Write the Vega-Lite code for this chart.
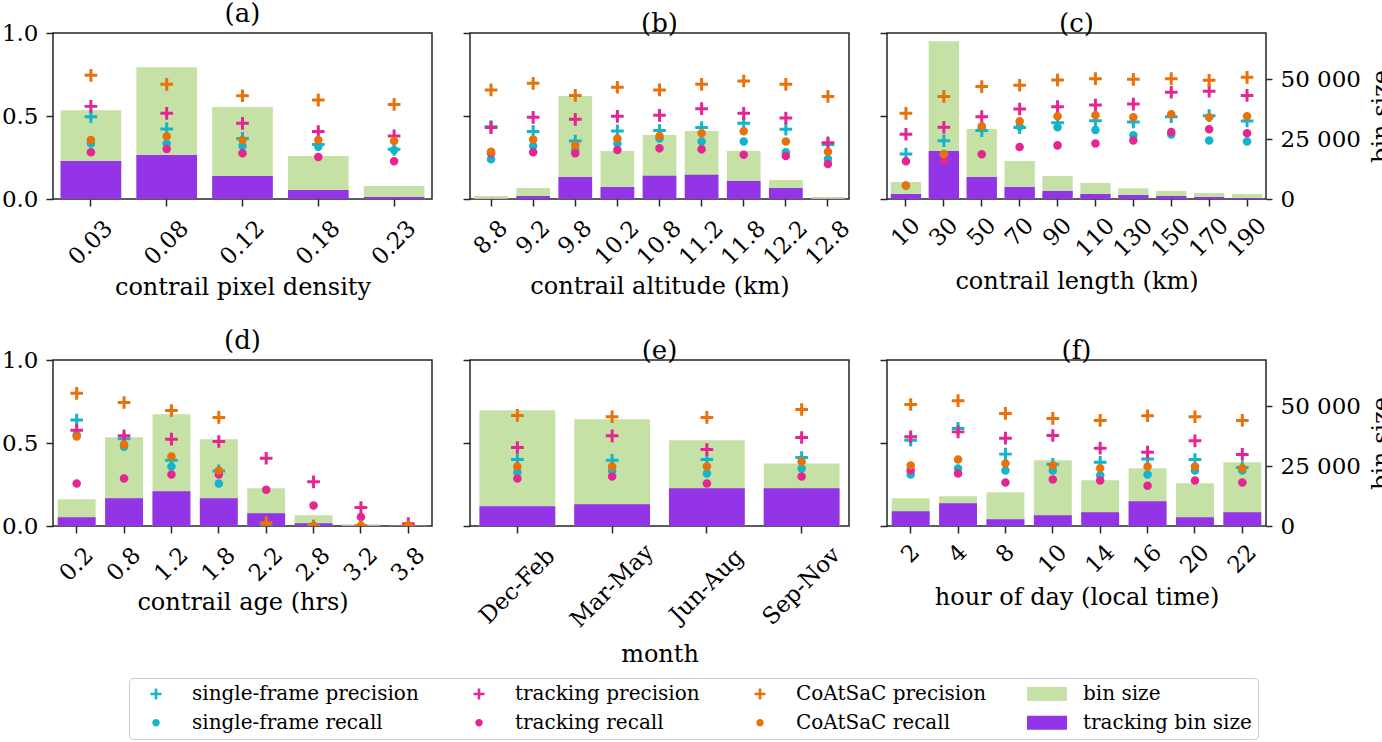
{
  "$schema": "https://vega.github.io/schema/vega-lite/v6.json",
  "description": "Precision, recall and bin size of contrail detection by contrail property",
  "padding": {"left": 0, "top": 0, "right": 0, "bottom": 0},
  "data": {
    "values": [
      {"p": "a", "x": "0.03", "sp": 0.496, "sr": 0.335, "tp": 0.558, "tr": 0.281, "cp": 0.745, "cr": 0.355, "bin": 37000, "tbin": 15800},
      {"p": "a", "x": "0.08", "sp": 0.422, "sr": 0.335, "tp": 0.516, "tr": 0.301, "cp": 0.691, "cr": 0.378, "bin": 54950, "tbin": 18300},
      {"p": "a", "x": "0.12", "sp": 0.365, "sr": 0.319, "tp": 0.456, "tr": 0.275, "cp": 0.622, "cr": 0.355, "bin": 38300, "tbin": 9600},
      {"p": "a", "x": "0.18", "sp": 0.329, "sr": 0.315, "tp": 0.406, "tr": 0.253, "cp": 0.596, "cr": 0.355, "bin": 17900, "tbin": 3750},
      {"p": "a", "x": "0.23", "sp": 0.299, "sr": 0.295, "tp": 0.380, "tr": 0.227, "cp": 0.570, "cr": 0.349, "bin": 5400, "tbin": 830},

      {"p": "b", "x": "8.8", "sp": 0.436, "sr": 0.239, "tp": 0.430, "tr": 0.275, "cp": 0.657, "cr": 0.285, "bin": 1250, "tbin": 150},
      {"p": "b", "x": "9.2", "sp": 0.406, "sr": 0.319, "tp": 0.492, "tr": 0.281, "cp": 0.697, "cr": 0.359, "bin": 4580, "tbin": 1250},
      {"p": "b", "x": "9.8", "sp": 0.349, "sr": 0.295, "tp": 0.480, "tr": 0.275, "cp": 0.624, "cr": 0.323, "bin": 42900, "tbin": 9160},
      {"p": "b", "x": "10.2", "sp": 0.410, "sr": 0.335, "tp": 0.498, "tr": 0.295, "cp": 0.673, "cr": 0.365, "bin": 19980, "tbin": 5000},
      {"p": "b", "x": "10.8", "sp": 0.412, "sr": 0.365, "tp": 0.504, "tr": 0.305, "cp": 0.657, "cr": 0.380, "bin": 26650, "tbin": 9710},
      {"p": "b", "x": "11.2", "sp": 0.430, "sr": 0.347, "tp": 0.544, "tr": 0.299, "cp": 0.691, "cr": 0.396, "bin": 28300, "tbin": 10130},
      {"p": "b", "x": "11.8", "sp": 0.456, "sr": 0.347, "tp": 0.516, "tr": 0.267, "cp": 0.711, "cr": 0.408, "bin": 19980, "tbin": 7490},
      {"p": "b", "x": "12.2", "sp": 0.420, "sr": 0.281, "tp": 0.488, "tr": 0.259, "cp": 0.691, "cr": 0.347, "bin": 7910, "tbin": 4580},
      {"p": "b", "x": "12.8", "sp": 0.329, "sr": 0.241, "tp": 0.339, "tr": 0.211, "cp": 0.618, "cr": 0.285, "bin": 830, "tbin": 80},

      {"p": "c", "x": "10", "sp": 0.271, "sr": 0.080, "tp": 0.390, "tr": 0.227, "cp": 0.516, "cr": 0.082, "bin": 7080, "tbin": 2080},
      {"p": "c", "x": "30", "sp": 0.351, "sr": 0.271, "tp": 0.432, "tr": 0.233, "cp": 0.618, "cr": 0.269, "bin": 65770, "tbin": 19980},
      {"p": "c", "x": "50", "sp": 0.412, "sr": 0.426, "tp": 0.496, "tr": 0.269, "cp": 0.677, "cr": 0.438, "bin": 29140, "tbin": 9160},
      {"p": "c", "x": "70", "sp": 0.430, "sr": 0.436, "tp": 0.542, "tr": 0.313, "cp": 0.685, "cr": 0.468, "bin": 15820, "tbin": 5000},
      {"p": "c", "x": "90", "sp": 0.460, "sr": 0.432, "tp": 0.556, "tr": 0.323, "cp": 0.717, "cr": 0.498, "bin": 9570, "tbin": 3330},
      {"p": "c", "x": "110", "sp": 0.472, "sr": 0.416, "tp": 0.566, "tr": 0.335, "cp": 0.725, "cr": 0.504, "bin": 6660, "tbin": 2080},
      {"p": "c", "x": "130", "sp": 0.464, "sr": 0.384, "tp": 0.572, "tr": 0.353, "cp": 0.721, "cr": 0.492, "bin": 4440, "tbin": 1660},
      {"p": "c", "x": "150", "sp": 0.496, "sr": 0.388, "tp": 0.643, "tr": 0.404, "cp": 0.725, "cr": 0.510, "bin": 3330, "tbin": 1250},
      {"p": "c", "x": "170", "sp": 0.502, "sr": 0.353, "tp": 0.649, "tr": 0.420, "cp": 0.715, "cr": 0.492, "bin": 2500, "tbin": 830},
      {"p": "c", "x": "190", "sp": 0.470, "sr": 0.347, "tp": 0.624, "tr": 0.396, "cp": 0.733, "cr": 0.498, "bin": 2080, "tbin": 420},

      {"p": "d", "x": "0.2", "sp": 0.638, "sr": 0.550, "tp": 0.577, "tr": 0.256, "cp": 0.799, "cr": 0.539, "bin": 11120, "tbin": 3620},
      {"p": "d", "x": "0.8", "sp": 0.525, "sr": 0.477, "tp": 0.543, "tr": 0.286, "cp": 0.744, "cr": 0.491, "bin": 36980, "tbin": 11540},
      {"p": "d", "x": "1.2", "sp": 0.396, "sr": 0.358, "tp": 0.523, "tr": 0.310, "cp": 0.696, "cr": 0.419, "bin": 46580, "tbin": 14460},
      {"p": "d", "x": "1.8", "sp": 0.332, "sr": 0.256, "tp": 0.509, "tr": 0.310, "cp": 0.654, "cr": 0.334, "bin": 36150, "tbin": 11540},
      {"p": "d", "x": "2.2", "sp": 0, "sr": 0, "tp": 0.408, "tr": 0.219, "cp": 0.020, "cr": 0, "bin": 15710, "tbin": 5280},
      {"p": "d", "x": "2.8", "sp": 0, "sr": 0, "tp": 0.266, "tr": 0.123, "cp": 0, "cr": 0, "bin": 4450, "tbin": 1110},
      {"p": "d", "x": "3.2", "sp": 0, "sr": 0, "tp": 0.111, "tr": 0.054, "cp": 0, "cr": 0, "bin": 700, "tbin": 100},
      {"p": "d", "x": "3.8", "sp": 0, "sr": 0, "tp": 0.014, "tr": 0, "cp": 0, "cr": 0, "bin": 60, "tbin": 0},

      {"p": "e", "x": "Dec-Feb", "sp": 0.400, "sr": 0.324, "tp": 0.473, "tr": 0.286, "cp": 0.666, "cr": 0.358, "bin": 48240, "tbin": 8200},
      {"p": "e", "x": "Mar-May", "sp": 0.396, "sr": 0.332, "tp": 0.543, "tr": 0.298, "cp": 0.658, "cr": 0.358, "bin": 44490, "tbin": 9040},
      {"p": "e", "x": "Jun-Aug", "sp": 0.400, "sr": 0.316, "tp": 0.461, "tr": 0.256, "cp": 0.654, "cr": 0.358, "bin": 35730, "tbin": 15710},
      {"p": "e", "x": "Sep-Nov", "sp": 0.412, "sr": 0.346, "tp": 0.533, "tr": 0.298, "cp": 0.702, "cr": 0.388, "bin": 26000, "tbin": 15710},

      {"p": "f", "x": "2", "sp": 0.517, "sr": 0.310, "tp": 0.537, "tr": 0.336, "cp": 0.732, "cr": 0.364, "bin": 11540, "tbin": 6120},
      {"p": "f", "x": "4", "sp": 0.588, "sr": 0.346, "tp": 0.567, "tr": 0.316, "cp": 0.755, "cr": 0.400, "bin": 12370, "tbin": 9450},
      {"p": "f", "x": "8", "sp": 0.433, "sr": 0.334, "tp": 0.529, "tr": 0.262, "cp": 0.678, "cr": 0.376, "bin": 14040, "tbin": 2780},
      {"p": "f", "x": "10", "sp": 0.372, "sr": 0.334, "tp": 0.545, "tr": 0.280, "cp": 0.648, "cr": 0.364, "bin": 27390, "tbin": 4450},
      {"p": "f", "x": "14", "sp": 0.384, "sr": 0.306, "tp": 0.469, "tr": 0.274, "cp": 0.636, "cr": 0.348, "bin": 19060, "tbin": 5700},
      {"p": "f", "x": "16", "sp": 0.404, "sr": 0.310, "tp": 0.445, "tr": 0.243, "cp": 0.664, "cr": 0.358, "bin": 24050, "tbin": 10290},
      {"p": "f", "x": "20", "sp": 0.400, "sr": 0.334, "tp": 0.513, "tr": 0.274, "cp": 0.658, "cr": 0.358, "bin": 17810, "tbin": 3620},
      {"p": "f", "x": "22", "sp": 0.352, "sr": 0.334, "tp": 0.431, "tr": 0.262, "cp": 0.636, "cr": 0.348, "bin": 26560, "tbin": 5700}
    ]
  },
  "columns": 3,
  "spacing": {"row": 161, "column": 38},
  "bounds": "flush",
  "concat": [
    {
      "title": "(a)",
      "width": 379,
      "height": 166,
      "transform": [{"filter": "datum.p == 'a'"}],
      "encoding": {
        "x": {"field": "x", "type": "ordinal", "sort": null, "scale": {"type": "band"},
              "axis": {"title": "contrail pixel density", "titleY": 88, "labelAngle": -45, "labelAlign": "center", "labelBaseline": "middle",
                       "labelPadding": {"expr": "15 + 5.4 * length(datum.label)"}}},
        "color": {"field": "s", "type": "nominal",
                  "scale": {"domain": ["sp", "sr", "tp", "tr", "cp", "cr", "bin", "tbin"],
                            "range": ["#12b5cb", "#12b5cb", "#e52592", "#e52592", "#e8710a", "#e8710a", "#c5e1a5", "#9334e6"]},
                  "legend": {"title": null, "orient": "none", "legendX": 76, "legendY": 645, "columns": 4,
                             "symbolSize": 400, "symbolStrokeWidth": 0, "symbolOffset": 11, "labelOffset": 26,
                             "columnPadding": 39, "rowPadding": 8.7, "padding": 6,
                             "strokeColor": "#cccccc", "cornerRadius": 4, "fillColor": "#ffffff",
                             "labelFontSize": 20, "labelLimit": 400,
                             "labelExpr": "{'sp': 'single-frame precision', 'tp': 'tracking precision', 'cp': 'CoAtSaC precision', 'bin': 'bin size', 'sr': 'single-frame recall', 'tr': 'tracking recall', 'cr': 'CoAtSaC recall', 'tbin': 'tracking bin size'}[datum.label]"}}
      },
      "layer": [
        {
          "transform": [{"fold": ["bin", "tbin"], "as": ["s", "v"]}],
          "mark": {"type": "bar"},
          "encoding": {
            "y": {"field": "v", "type": "quantitative", "stack": null, "scale": {"domain": [0, 69170], "nice": false}, "axis": null}
          }
        },
        {
          "transform": [{"fold": ["sp", "sr", "tp", "tr", "cp", "cr"], "as": ["s", "v"]}],
          "mark": {"type": "point", "filled": true, "opacity": 1, "size": 530, "strokeWidth": 0, "clip": true},
          "encoding": {
            "y": {"field": "v", "type": "quantitative", "scale": {"domain": [0, 1], "nice": false},
                  "axis": {"orient": "left", "values": [0, 0.5, 1], "format": ".1f", "title": null, "labelPadding": 8}},
            "shape": {"field": "s", "type": "nominal",
                      "scale": {"domain": ["sp", "sr", "tp", "tr", "cp", "cr", "bin", "tbin"],
                                "range": ["M-0.55,-0.13L-0.13,-0.13L-0.13,-0.55L0.13,-0.55L0.13,-0.13L0.55,-0.13L0.55,0.13L0.13,0.13L0.13,0.55L-0.13,0.55L-0.13,0.13L-0.55,0.13Z",
                                          "M0.37,0A0.37,0.37,0,1,1,-0.37,0A0.37,0.37,0,1,1,0.37,0Z",
                                          "M-0.55,-0.13L-0.13,-0.13L-0.13,-0.55L0.13,-0.55L0.13,-0.13L0.55,-0.13L0.55,0.13L0.13,0.13L0.13,0.55L-0.13,0.55L-0.13,0.13L-0.55,0.13Z",
                                          "M0.37,0A0.37,0.37,0,1,1,-0.37,0A0.37,0.37,0,1,1,0.37,0Z",
                                          "M-0.55,-0.13L-0.13,-0.13L-0.13,-0.55L0.13,-0.55L0.13,-0.13L0.55,-0.13L0.55,0.13L0.13,0.13L0.13,0.55L-0.13,0.55L-0.13,0.13L-0.55,0.13Z",
                                          "M0.37,0A0.37,0.37,0,1,1,-0.37,0A0.37,0.37,0,1,1,0.37,0Z",
                                          "M-2,-0.7L2,-0.7L2,0.7L-2,0.7Z",
                                          "M-2,-0.7L2,-0.7L2,0.7L-2,0.7Z"]},
                      "legend": {"title": null, "orient": "none", "legendX": 76, "legendY": 645, "columns": 4,
                                 "symbolSize": 400, "symbolStrokeWidth": 0, "symbolOffset": 11, "labelOffset": 26,
                                 "columnPadding": 39, "rowPadding": 8.7, "padding": 6,
                                 "strokeColor": "#cccccc", "cornerRadius": 4, "fillColor": "#ffffff",
                                 "labelFontSize": 20, "labelLimit": 400,
                                 "labelExpr": "{'sp': 'single-frame precision', 'tp': 'tracking precision', 'cp': 'CoAtSaC precision', 'bin': 'bin size', 'sr': 'single-frame recall', 'tr': 'tracking recall', 'cr': 'CoAtSaC recall', 'tbin': 'tracking bin size'}[datum.label]"}}
          }
        }
      ],
      "resolve": {"scale": {"y": "independent"}}
    },
    {
      "title": "(b)",
      "width": 379,
      "height": 166,
      "transform": [{"filter": "datum.p == 'b'"}],
      "encoding": {
        "x": {"field": "x", "type": "ordinal", "sort": null, "scale": {"type": "band"},
              "axis": {"title": "contrail altitude (km)", "titleY": 87, "labelAngle": -45, "labelAlign": "center", "labelBaseline": "middle",
                       "labelPadding": {"expr": "15 + 5.4 * length(datum.label)"}}},
        "color": {"field": "s", "type": "nominal",
                  "scale": {"domain": ["sp", "sr", "tp", "tr", "cp", "cr", "bin", "tbin"],
                            "range": ["#12b5cb", "#12b5cb", "#e52592", "#e52592", "#e8710a", "#e8710a", "#c5e1a5", "#9334e6"]},
                  "legend": null}
      },
      "layer": [
        {
          "transform": [{"fold": ["bin", "tbin"], "as": ["s", "v"]}],
          "mark": {"type": "bar"},
          "encoding": {
            "y": {"field": "v", "type": "quantitative", "stack": null, "scale": {"domain": [0, 69170], "nice": false}, "axis": null}
          }
        },
        {
          "transform": [{"fold": ["sp", "sr", "tp", "tr", "cp", "cr"], "as": ["s", "v"]}],
          "mark": {"type": "point", "filled": true, "opacity": 1, "size": 530, "strokeWidth": 0, "clip": true},
          "encoding": {
            "y": {"field": "v", "type": "quantitative", "scale": {"domain": [0, 1], "nice": false},
                  "axis": {"orient": "left", "values": [0, 0.5, 1], "labels": false, "title": null}},
            "shape": {"field": "s", "type": "nominal", "legend": null}
          }
        }
      ],
      "resolve": {"scale": {"y": "independent"}}
    },
    {
      "title": "(c)",
      "width": 379,
      "height": 166,
      "transform": [{"filter": "datum.p == 'c'"}],
      "encoding": {
        "x": {"field": "x", "type": "ordinal", "sort": null, "scale": {"type": "band"},
              "axis": {"title": "contrail length (km)", "titleY": 82, "labelAngle": -45, "labelAlign": "center", "labelBaseline": "middle",
                       "labelPadding": {"expr": "15 + 5.4 * length(datum.label)"}}},
        "color": {"field": "s", "type": "nominal",
                  "scale": {"domain": ["sp", "sr", "tp", "tr", "cp", "cr", "bin", "tbin"],
                            "range": ["#12b5cb", "#12b5cb", "#e52592", "#e52592", "#e8710a", "#e8710a", "#c5e1a5", "#9334e6"]},
                  "legend": null}
      },
      "layer": [
        {
          "transform": [{"fold": ["bin", "tbin"], "as": ["s", "v"]}],
          "mark": {"type": "bar"},
          "encoding": {
            "y": {"field": "v", "type": "quantitative", "stack": null, "scale": {"domain": [0, 69170], "nice": false},
                  "axis": {"orient": "right", "values": [0, 25000, 50000], "labelExpr": "replace(format(datum.value, ','), ',', ' ')",
                           "title": "bin size", "titleAngle": 270, "titleBaseline": "top", "titleX": 103, "titleY": 83,
                           "tickSize": 6, "labelPadding": 8}}
          }
        },
        {
          "transform": [{"fold": ["sp", "sr", "tp", "tr", "cp", "cr"], "as": ["s", "v"]}],
          "mark": {"type": "point", "filled": true, "opacity": 1, "size": 530, "strokeWidth": 0, "clip": true},
          "encoding": {
            "y": {"field": "v", "type": "quantitative", "scale": {"domain": [0, 1], "nice": false},
                  "axis": {"orient": "left", "values": [0, 0.5, 1], "labels": false, "title": null}},
            "shape": {"field": "s", "type": "nominal", "legend": null}
          }
        }
      ],
      "resolve": {"scale": {"y": "independent"}}
    },
    {
      "title": "(d)",
      "width": 379,
      "height": 166,
      "transform": [{"filter": "datum.p == 'd'"}],
      "encoding": {
        "x": {"field": "x", "type": "ordinal", "sort": null, "scale": {"type": "band"},
              "axis": {"title": "contrail age (hrs)", "titleY": 76, "labelAngle": -45, "labelAlign": "center", "labelBaseline": "middle",
                       "labelPadding": {"expr": "15 + 5.4 * length(datum.label)"}}},
        "color": {"field": "s", "type": "nominal",
                  "scale": {"domain": ["sp", "sr", "tp", "tr", "cp", "cr", "bin", "tbin"],
                            "range": ["#12b5cb", "#12b5cb", "#e52592", "#e52592", "#e8710a", "#e8710a", "#c5e1a5", "#9334e6"]},
                  "legend": null}
      },
      "layer": [
        {
          "transform": [{"fold": ["bin", "tbin"], "as": ["s", "v"]}],
          "mark": {"type": "bar"},
          "encoding": {
            "y": {"field": "v", "type": "quantitative", "stack": null, "scale": {"domain": [0, 69170], "nice": false}, "axis": null}
          }
        },
        {
          "transform": [{"fold": ["sp", "sr", "tp", "tr", "cp", "cr"], "as": ["s", "v"]}],
          "mark": {"type": "point", "filled": true, "opacity": 1, "size": 530, "strokeWidth": 0, "clip": true},
          "encoding": {
            "y": {"field": "v", "type": "quantitative", "scale": {"domain": [0, 1], "nice": false},
                  "axis": {"orient": "left", "values": [0, 0.5, 1], "format": ".1f", "title": null, "labelPadding": 8}},
            "shape": {"field": "s", "type": "nominal", "legend": null}
          }
        }
      ],
      "resolve": {"scale": {"y": "independent"}}
    },
    {
      "title": "(e)",
      "width": 379,
      "height": 166,
      "transform": [{"filter": "datum.p == 'e'"}],
      "encoding": {
        "x": {"field": "x", "type": "ordinal", "sort": null, "scale": {"type": "band"},
              "axis": {"title": "month", "titleY": 128, "labelAngle": -45, "labelAlign": "center", "labelBaseline": "middle",
                       "labelPadding": {"expr": "15 + 5.4 * length(datum.label)"}}},
        "color": {"field": "s", "type": "nominal",
                  "scale": {"domain": ["sp", "sr", "tp", "tr", "cp", "cr", "bin", "tbin"],
                            "range": ["#12b5cb", "#12b5cb", "#e52592", "#e52592", "#e8710a", "#e8710a", "#c5e1a5", "#9334e6"]},
                  "legend": null}
      },
      "layer": [
        {
          "transform": [{"fold": ["bin", "tbin"], "as": ["s", "v"]}],
          "mark": {"type": "bar"},
          "encoding": {
            "y": {"field": "v", "type": "quantitative", "stack": null, "scale": {"domain": [0, 69170], "nice": false}, "axis": null}
          }
        },
        {
          "transform": [{"fold": ["sp", "sr", "tp", "tr", "cp", "cr"], "as": ["s", "v"]}],
          "mark": {"type": "point", "filled": true, "opacity": 1, "size": 530, "strokeWidth": 0, "clip": true},
          "encoding": {
            "y": {"field": "v", "type": "quantitative", "scale": {"domain": [0, 1], "nice": false},
                  "axis": {"orient": "left", "values": [0, 0.5, 1], "labels": false, "title": null}},
            "shape": {"field": "s", "type": "nominal", "legend": null}
          }
        }
      ],
      "resolve": {"scale": {"y": "independent"}}
    },
    {
      "title": "(f)",
      "width": 379,
      "height": 166,
      "transform": [{"filter": "datum.p == 'f'"}],
      "encoding": {
        "x": {"field": "x", "type": "ordinal", "sort": null, "scale": {"type": "band"},
              "axis": {"title": "hour of day (local time)", "titleY": 71, "labelAngle": -45, "labelAlign": "center", "labelBaseline": "middle",
                       "labelPadding": {"expr": "15 + 5.4 * length(datum.label)"}}},
        "color": {"field": "s", "type": "nominal",
                  "scale": {"domain": ["sp", "sr", "tp", "tr", "cp", "cr", "bin", "tbin"],
                            "range": ["#12b5cb", "#12b5cb", "#e52592", "#e52592", "#e8710a", "#e8710a", "#c5e1a5", "#9334e6"]},
                  "legend": null}
      },
      "layer": [
        {
          "transform": [{"fold": ["bin", "tbin"], "as": ["s", "v"]}],
          "mark": {"type": "bar"},
          "encoding": {
            "y": {"field": "v", "type": "quantitative", "stack": null, "scale": {"domain": [0, 69170], "nice": false},
                  "axis": {"orient": "right", "values": [0, 25000, 50000], "labelExpr": "replace(format(datum.value, ','), ',', ' ')",
                           "title": "bin size", "titleAngle": 270, "titleBaseline": "top", "titleX": 103, "titleY": 83,
                           "tickSize": 6, "labelPadding": 8}}
          }
        },
        {
          "transform": [{"fold": ["sp", "sr", "tp", "tr", "cp", "cr"], "as": ["s", "v"]}],
          "mark": {"type": "point", "filled": true, "opacity": 1, "size": 530, "strokeWidth": 0, "clip": true},
          "encoding": {
            "y": {"field": "v", "type": "quantitative", "scale": {"domain": [0, 1], "nice": false},
                  "axis": {"orient": "left", "values": [0, 0.5, 1], "labels": false, "title": null}},
            "shape": {"field": "s", "type": "nominal", "legend": null}
          }
        }
      ],
      "resolve": {"scale": {"y": "independent"}}
    }
  ],
  "config": {
    "font": "DejaVu Serif",
    "view": {"stroke": "#262626", "strokeWidth": 1.5},
    "scale": {"bandPaddingInner": 0.2, "bandPaddingOuter": 0.1},
    "axis": {"labelFont": "DejaVu Serif", "titleFont": "DejaVu Serif", "labelFontSize": 23, "titleFontSize": 24,
             "labelColor": "#000000", "titleColor": "#000000", "titleFontWeight": "normal",
             "domain": false, "grid": false, "tickColor": "#262626", "tickSize": 7, "tickWidth": 1.5},
    "axisX": {"titleBaseline": "middle"},
    "title": {"font": "DejaVu Serif", "fontSize": 26, "fontWeight": "normal", "color": "#000000", "offset": -5, "baseline": "bottom", "frame": "group"},
    "legend": {"labelFont": "DejaVu Serif", "labelFontSize": 20, "labelColor": "#000000"}
  }
}
